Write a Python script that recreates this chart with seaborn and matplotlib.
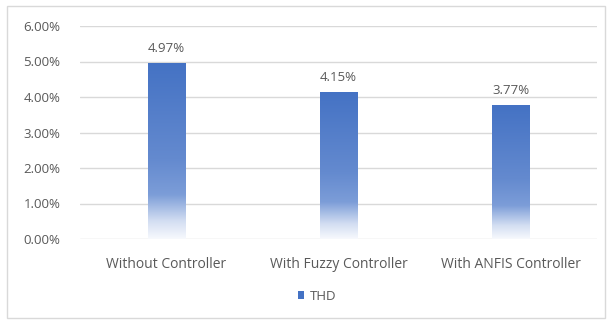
import numpy as np
import pandas as pd
import matplotlib
matplotlib.use("Agg")
import matplotlib.pyplot as plt
from matplotlib.colors import LinearSegmentedColormap
from matplotlib.patches import Rectangle
import seaborn as sns

categories = ["Without Controller", "With Fuzzy Controller", "With ANFIS Controller"]
thd_values = [4.97, 4.15, 3.77]
series_name = "THD"
y_ticks = [0, 1, 2, 3, 4, 5, 6]

df = pd.DataFrame({"Configuration": categories, series_name: thd_values})

sns.set_theme(style="white")
plt.rcParams["font.family"] = ["Open Sans", "DejaVu Sans"]

text_color = "#595959"
bar_color = "#4472C4"

fig = plt.figure(figsize=(6.12, 3.27), dpi=100)
W, H = 612, 327
ax = fig.add_axes([80 / W, 1 - 239 / H, (597 - 80) / W, (239 - 26) / H])

sns.barplot(data=df, x="Configuration", y=series_name, color=bar_color,
            width=0.215, ax=ax, saturation=1)

# gradient fill: solid blue at the top fading to white at the base
cmap = LinearSegmentedColormap.from_list(
    "fade", [(0.0, "#f7f9fd"), (0.1, "#d3def2"), (0.25, "#7c9dd8"),
             (0.45, "#648acf"), (1.0, "#4472C4")])
grad = np.linspace(0, 1, 256).reshape(-1, 1)
for patch in ax.patches:
    x0, y0 = patch.get_x(), patch.get_y()
    w, h = patch.get_width(), patch.get_height()
    patch.set_facecolor("none")
    patch.set_edgecolor("none")
    im = ax.imshow(grad, cmap=cmap, origin="lower", aspect="auto",
                   extent=[x0, x0 + w, y0, y0 + h], zorder=2)
    im.set_clip_path(patch)
    ax.text(x0 + w / 2, h + 0.22, f"{h:.2f}%", ha="center", va="bottom",
            fontsize=9.5, color=text_color)

ax.set_xlim(-0.5, 2.5)
ax.set_ylim(0, 6)
ax.set_yticks(y_ticks)
ax.set_yticklabels([f"{v:.2f}%" for v in y_ticks], fontsize=9.5, color=text_color)
ax.tick_params(axis="x", labelsize=10, colors=text_color, length=0, pad=13)
ax.tick_params(axis="y", length=0, pad=14)
ax.set_xlabel("")
ax.set_ylabel("")
ax.yaxis.grid(True, color="#d9d9d9", linewidth=1)
ax.set_axisbelow(True)
for s in ax.spines.values():
    s.set_visible(False)

# legend
handle = Rectangle((0, 0), 1, 1, facecolor=bar_color, edgecolor="none")
fig.legend([handle], [series_name], loc="center", bbox_to_anchor=(317 / W, 1 - 296 / H),
           frameon=False, fontsize=9.5, handlelength=0.5, handleheight=0.5,
           handletextpad=0.4, labelcolor=text_color)

# chart frame
fig.patches.append(Rectangle((7 / W, 1 - 318 / H), (605 - 7) / W, (318 - 6) / H,
                             transform=fig.transFigure, fill=False,
                             edgecolor="#d9d9d9", linewidth=1))

fig.savefig("out.png", dpi=100)
